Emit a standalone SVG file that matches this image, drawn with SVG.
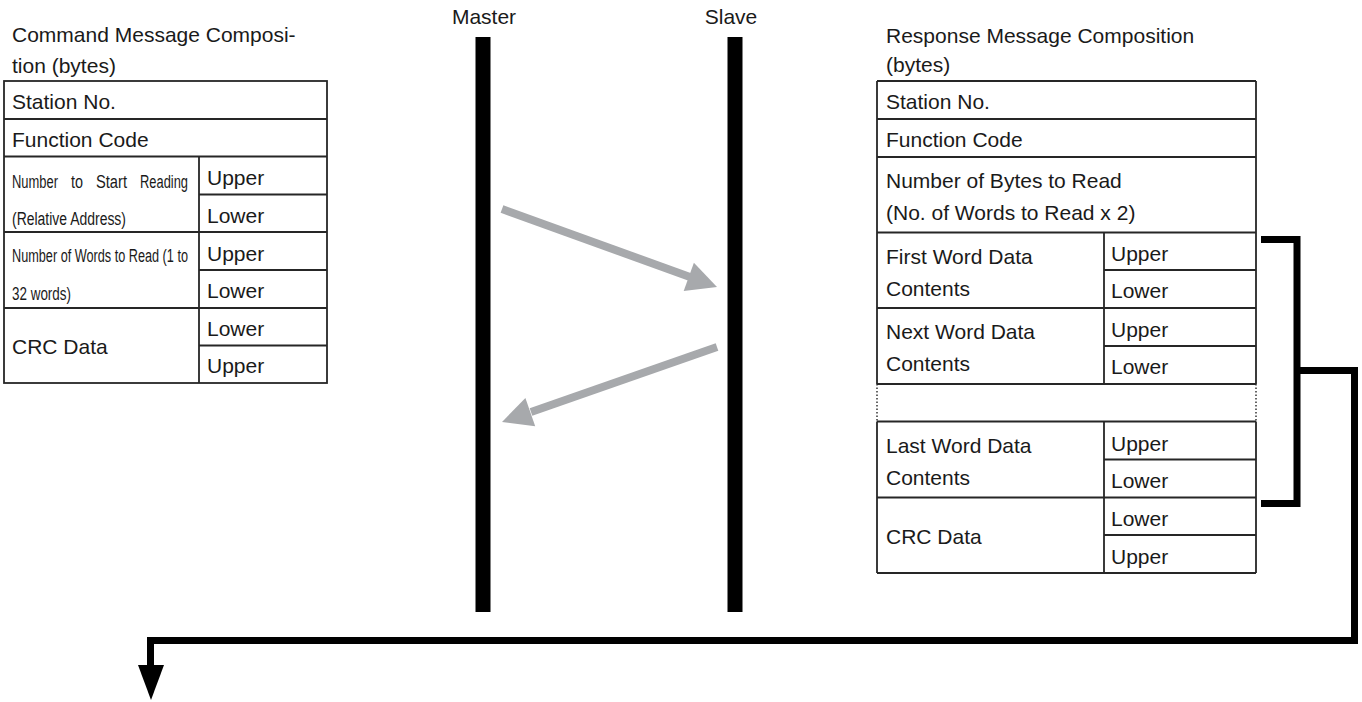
<svg xmlns="http://www.w3.org/2000/svg" width="1362" height="702" viewBox="0 0 1362 702">
<style>
  text { font-family: "Liberation Sans", Arial, sans-serif; font-size: 21px; fill: #1a1a1a; }
  .n { font-size: 18px; }
  .tb { fill: #ffffff; stroke: #262626; stroke-width: 1.8; }
  .ln { stroke: #262626; stroke-width: 1.8; fill: none; }
  .dot { stroke: #262626; stroke-width: 1.4; stroke-dasharray: 1.5 2; fill: none; }
  .life { fill: #000000; }
  .gray { stroke: #a7a9ac; stroke-width: 8; fill: none; }
  .grayhead { fill: #a7a9ac; }
  .blk { stroke: #000000; stroke-width: 7; fill: none; stroke-linejoin: miter; }
</style>
<rect width="1362" height="702" fill="#ffffff"/>

<g id="command-title">
  <text x="12" y="42">Command Message Composi-</text>
  <text x="12" y="73">tion (bytes)</text>
</g>
<g id="command-table">
  <rect class="tb" x="4" y="81" width="323" height="302"/>
  <path class="ln" d="M4 119H327M4 156.5H327M4 232H327M4 308H327M199 194.5H327M199 270H327M199 345.5H327M199 156.5V383"/>
  <text x="12" y="109">Station No.</text>
  <text x="12" y="147">Function Code</text>
  <text class="n" y="188"><tspan x="12" textLength="46" lengthAdjust="spacingAndGlyphs">Number</tspan><tspan x="71" textLength="12" lengthAdjust="spacingAndGlyphs">to</tspan><tspan x="96" textLength="31" lengthAdjust="spacingAndGlyphs">Start</tspan><tspan x="140" textLength="48" lengthAdjust="spacingAndGlyphs">Reading</tspan></text>
  <text class="n" x="12" y="225" textLength="114" lengthAdjust="spacingAndGlyphs">(Relative Address)</text>
  <text class="n" x="12" y="262" textLength="176" lengthAdjust="spacingAndGlyphs">Number of Words to Read (1 to</text>
  <text class="n" x="12" y="300" textLength="59" lengthAdjust="spacingAndGlyphs">32 words)</text>
  <text x="12" y="354">CRC Data</text>
  <text x="207" y="185">Upper</text>
  <text x="207" y="223">Lower</text>
  <text x="207" y="261">Upper</text>
  <text x="207" y="298">Lower</text>
  <text x="207" y="336">Lower</text>
  <text x="207" y="373">Upper</text>
</g>

<g id="master">
  <text x="484" y="24" text-anchor="middle">Master</text>
  <rect class="life" x="475.5" y="37" width="15" height="575"/>
</g>
<g id="slave">
  <text x="731" y="24" text-anchor="middle">Slave</text>
  <rect class="life" x="727.5" y="37" width="15" height="575"/>
</g>

<g id="response-title">
  <text x="886" y="43">Response Message Composition</text>
  <text x="886" y="72">(bytes)</text>
</g>
<g id="response-table">
  <rect fill="#ffffff" x="877" y="81" width="379" height="492"/>
  <path class="ln" d="M877 81H1256M877 119H1256M877 157H1256M877 232.5H1256M877 308H1256M877 384H1256M877 421.5H1256M877 497.5H1256M877 573H1256M1104 270H1256M1104 346H1256M1104 459.5H1256M1104 535H1256M877 81V384M1256 81V384M877 421.5V573M1256 421.5V573M1104 232.5V384M1104 421.5V573"/>
  <path class="dot" d="M877 384V421.5M1256 384V421.5"/>
  <text x="886" y="109">Station No.</text>
  <text x="886" y="147">Function Code</text>
  <text x="886" y="188">Number of Bytes to Read</text>
  <text x="886" y="220">(No. of Words to Read x 2)</text>
  <text x="886" y="264">First Word Data</text>
  <text x="886" y="296">Contents</text>
  <text x="886" y="339">Next Word Data</text>
  <text x="886" y="371">Contents</text>
  <text x="886" y="453">Last Word Data</text>
  <text x="886" y="485">Contents</text>
  <text x="886" y="544">CRC Data</text>
  <text x="1111" y="261">Upper</text>
  <text x="1111" y="298">Lower</text>
  <text x="1111" y="337">Upper</text>
  <text x="1111" y="374">Lower</text>
  <text x="1111" y="451">Upper</text>
  <text x="1111" y="488">Lower</text>
  <text x="1111" y="526">Lower</text>
  <text x="1111" y="564">Upper</text>
</g>

<g id="connectors">
  <path class="gray" d="M502 209L690 277"/>
  <polygon class="grayhead" points="717,287 693.9,262.7 683.7,290.9"/>
  <path class="gray" d="M717 347L531 412"/>
  <polygon class="grayhead" points="502,422 525.4,397.9 535.2,426.3"/>
  <path class="blk" d="M1261 239.5H1297V503.5H1261"/>
  <path class="blk" d="M1297 370.5H1354.5V640.5H150.5V667"/>
  <polygon fill="#000000" points="138,665 164,665 151,700"/>
</g>
</svg>
